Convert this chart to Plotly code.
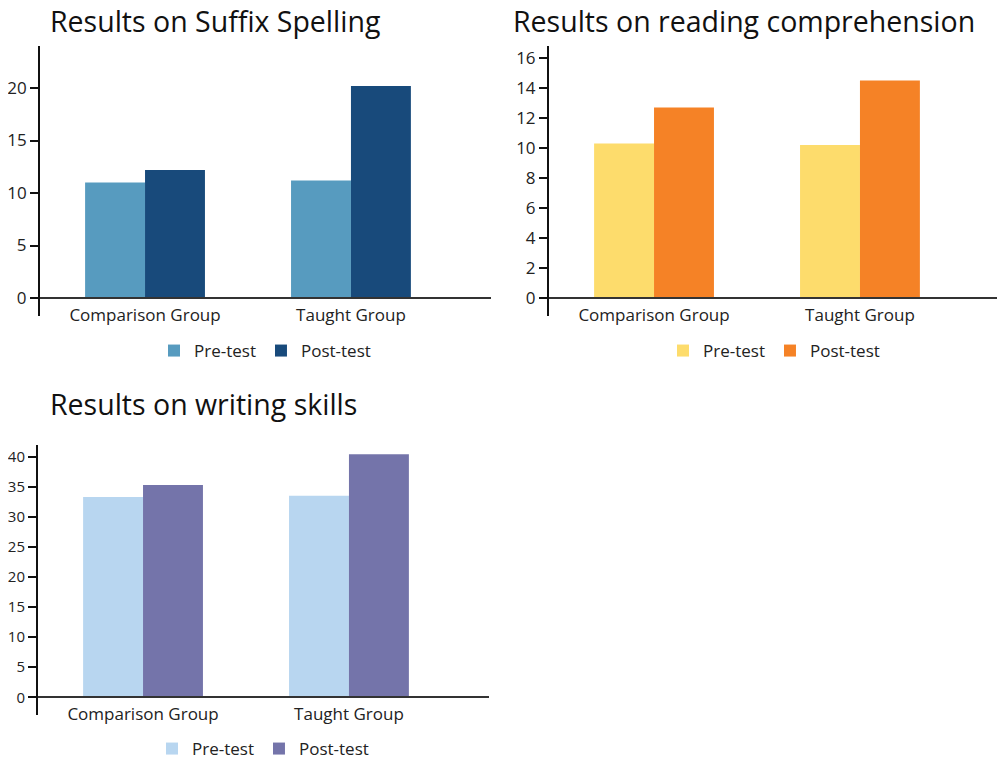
import plotly.graph_objects as go

# Data
groups = ["Comparison Group", "Taught Group"]
series = ["Pre-test", "Post-test"]

spelling_pre = [11.0, 11.2]
spelling_post = [12.2, 20.2]
reading_pre = [10.3, 10.2]
reading_post = [12.7, 14.5]
writing_pre = [33.3, 33.5]
writing_post = [35.3, 40.4]

titles = ["Results on Suffix Spelling", "Results on reading comprehension", "Results on writing skills"]

colors = {
    "spelling": ["#579bbf", "#184a7b"],
    "reading": ["#fddc6c", "#f58226"],
    "writing": ["#b8d6f0", "#7474aa"],
}

FONT = "Open Sans"
W, H = 1005, 760
PAD = 8  # page body margin that shifts the figure

charts = [
    # key, pre, post, x axis, y axis, legend
    ("spelling", spelling_pre, spelling_post, "x", "y", "legend"),
    ("reading", reading_pre, reading_post, "x2", "y2", "legend2"),
    ("writing", writing_pre, writing_post, "x3", "y3", "legend3"),
]

fig = go.Figure()
for key, pre, post, xa, ya, lg in charts:
    for name, vals, col in zip(series, [pre, post], colors[key]):
        fig.add_trace(go.Bar(
            x=groups, y=vals, name=name, marker_color=col, marker_line_width=0,
            xaxis=xa, yaxis=ya, legend=lg,
        ))


# page pixel -> paper fraction
def px_x(v):
    return (v - PAD) / W


def px_y(v):
    return 1 - (v - PAD) / H


def xaxis(left, right, base_px):
    return dict(
        domain=[px_x(left), px_x(right)], anchor="free", position=px_y(base_px),
        range=[-0.51, 1.68], showline=True, linecolor="#333", linewidth=2,
        ticks="", showgrid=False, zeroline=False, ticklabelstandoff=2,
        automargin=False,
        tickfont=dict(family=FONT, size=17, color="#222"),
    )


def yaxis(anchor, top_px, bot_px, rng, vals, size=17):
    return dict(
        domain=[px_y(bot_px), px_y(top_px)], anchor=anchor, range=rng,
        showline=True, linecolor="#111", linewidth=2, ticks="outside",
        ticklen=8, tickwidth=2, tickcolor="#111", tickvals=vals,
        showgrid=False, zeroline=False, automargin=False,
        tickfont=dict(family=FONT, size=size, color="#222"),
    )


def legend(xc, yc):
    return dict(
        orientation="h", x=xc, xanchor="center", y=yc, yanchor="middle",
        font=dict(family=FONT, size=17, color="#222"), bgcolor="rgba(0,0,0,0)",
        itemclick=False, itemdoubleclick=False, itemwidth=30,
        tracegroupgap=0, traceorder="normal",
    )


annotations = []
for t, (xp, yp) in zip(titles, [(48, 21), (511, 21), (48, 404)]):
    annotations.append(dict(
        text=t, x=px_x(xp), y=px_y(yp), xref="paper", yref="paper",
        xanchor="left", yanchor="middle", showarrow=False,
        font=dict(family=FONT, size=28.5, color="#111"),
    ))

fig.update_layout(
    width=W, height=H, margin=dict(l=0, r=0, t=0, b=0, autoexpand=False),
    paper_bgcolor="white", plot_bgcolor="white",
    barmode="group", bargap=0.418, bargroupgap=0,
    font=dict(family=FONT),
    xaxis=xaxis(40, 491, 298),
    yaxis=yaxis("x", 46, 316, [-1.71, 24], [0, 5, 10, 15, 20]),
    xaxis2=xaxis(549, 1000, 298),
    yaxis2=yaxis("x2", 46, 316, [-1.2, 16.8], [0, 2, 4, 6, 8, 10, 12, 14, 16]),
    xaxis3=xaxis(38, 489, 697),
    yaxis3=yaxis("x3", 445, 715, [-2.94, 41.95], [0, 5, 10, 15, 20, 25, 30, 35, 40], size=15),
    legend=legend(px_x(265), px_y(351)),
    legend2=legend(px_x(774), px_y(351)),
    legend3=legend(px_x(263), px_y(749)),
    annotations=annotations,
    showlegend=True,
)

fig.write_html("out.html")
